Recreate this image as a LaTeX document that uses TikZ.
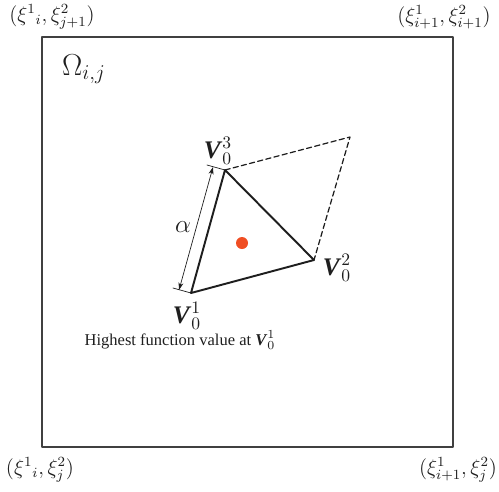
\documentclass[tikz,border=0pt]{standalone}
\usepackage{amsmath,amssymb}
\usepackage{fontspec}
\setmainfont{Liberation Serif}
\usepackage{xcolor}
\usepackage{tikz}
\usetikzlibrary{arrows.meta,positioning}
\definecolor{elInk}{HTML}{1E1E1E}
\definecolor{elFrame}{HTML}{404040}
\definecolor{elDot}{HTML}{F04E23}
\newcommand{\vtx}[1]{$\textbf{\textit{V}}^{#1}_0$}
\tikzset{
  el diagram/.style={x=0.02cm, y=-0.02cm, text=elInk,
    line cap=round, line join=round},
  el cell/.style={draw=elFrame, line width=0.85pt},
  el edge/.style={draw=elInk, line width=1.1pt},
  el trial/.style={draw=elInk, line width=0.7pt, dash pattern=on 3pt off 1.8pt},
  el dim/.style={{Stealth[length=1.5mm,width=1mm]}-{Stealth[length=1.5mm,width=1mm]},
    draw=elInk, line width=0.4pt},
  el tick/.style={draw=elInk, line width=0.4pt},
  el corner/.style={font=\large, inner sep=0pt},
  el vertex/.style={font=\Large, inner sep=0pt}
}
\begin{document}
\begin{tikzpicture}[el diagram]
\useasboundingbox (0,0) rectangle (499,491);
% cell
\coordinate (c00) at (42,447);
\coordinate (c10) at (453,447);
\coordinate (c11) at (453,37);
\coordinate (c01) at (42,37);
\draw[el cell] (c00) -- (c10) -- (c11) -- (c01) -- cycle;
\node[el corner] (l01) at (52,17) {$(\xi^1{}_i,\xi^2_{j+1})$};
\node[el corner] (l11) at (444,17) {$(\xi^1_{i+1},\xi^2_{i+1})$};
\node[el corner] (l00) at (40,470) {$(\xi^1{}_i,\xi^2_j)$};
\node[el corner] (l10) at (458,470) {$(\xi^1_{i+1},\xi^2_j)$};
\node[el corner, font=\LARGE] (omega) at (84,69) {$\Omega_{i,j}$};
% simplex
\coordinate (v1) at (191,293);
\coordinate (v2) at (314,260);
\coordinate (v3) at (225,170);
\coordinate (v4) at (350,137);
\draw[el edge] (v1) -- (v2) -- (v3) -- cycle;
\draw[el trial] (v3) -- (v4) -- (v2);
\fill[elDot] (242,243) circle (6);
\node[el vertex] (lv1) at (187,316) {\vtx{1}};
\node[el vertex] (lv2) at (337,268) {\vtx{2}};
\node[el vertex] (lv3) at (218,151) {\vtx{3}};
% edge length
\coordinate (t1) at (173,288);
\coordinate (t3) at (207,165);
\coordinate (d1) at (179,290);
\coordinate (d3) at (213,167);
\draw[el tick] (v1) -- (t1);
\draw[el tick] (v3) -- (t3);
\draw[el dim] (d3) -- (d1);
\node[font=\Large] (alpha) at (183,227) {$\alpha$};
\node[font=\fontsize{9.4}{11}\selectfont, inner sep=0pt] (note) at (180,340) {Highest function value at \vtx{1}};
\end{tikzpicture}
\end{document}
